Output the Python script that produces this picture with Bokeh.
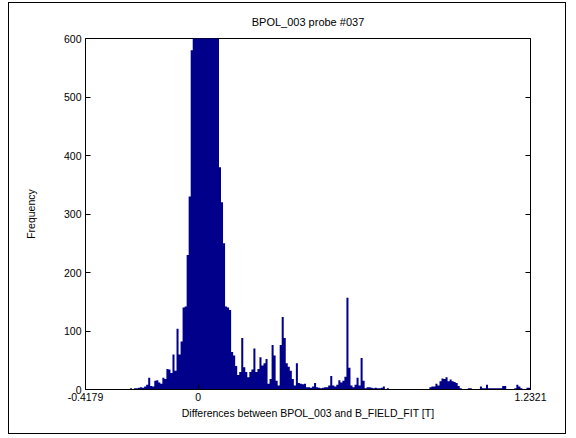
from bokeh.plotting import figure
from bokeh.models import (Range1d, FixedTicker, CustomJSTickFormatter, LinearAxis,
                          ColumnDataSource)
from bokeh.embed import file_html
from bokeh.resources import INLINE

title_text = "BPOL_003 probe #037"
x_label = "Differences between BPOL_003 and B_FIELD_FIT [T]"
y_label = "Frequency"

x_min = -0.4179
x_max = 1.2321
bin_width = 0.0075

counts = [
    1, 0, 0, 0, 0, 0, 0, 0, 0, 0,
    0, 0, 0, 0, 0, 0, 0, 0, 0, 0,
    0, 1, 2, 1, 2, 2, 3, 4, 3, 5,
    8, 20, 6, 5, 15, 16, 12, 10, 20, 18,
    35, 34, 28, 60, 32, 104, 60, 82, 140, 142,
    230, 330, 580, 650, 760, 890, 1020, 1130, 1210, 1240,
    1190, 1080, 940, 810, 700, 615, 380, 320, 250, 142,
    140, 136, 64, 58, 40, 25, 30, 88, 38, 30,
    21, 30, 34, 70, 30, 35, 55, 41, 45, 52,
    10, 18, 76, 58, 15, 7, 76, 124, 88, 45,
    39, 32, 18, 7, 45, 11, 10, 9, 10, 4,
    4, 3, 5, 11, 4, 3, 2, 3, 4, 4,
    7, 23, 7, 5, 8, 16, 12, 15, 22, 157,
    37, 7, 4, 8, 20, 7, 54, 15, 2, 4,
    4, 3, 2, 3, 2, 2, 3, 5, 1, 2,
    1, 0, 0, 0, 0, 0, 0, 0, 0, 0,
    0, 0, 0, 0, 0, 0, 0, 0, 0, 0,
    4, 5, 5, 10, 7, 14, 19, 18, 21, 14,
    17, 14, 13, 11, 6, 2, 1, 1, 0, 2,
    2, 1, 1, 1, 1, 5, 2, 2, 8, 2,
    2, 2, 2, 2, 2, 2, 6, 6, 1, 1,
    1, 1, 2, 8, 5, 2, 1, 1, 3, 3,
]

x_ticks = [-0.4179, 0.0, 1.2321]
y_ticks = [0, 100, 200, 300, 400, 500, 600]
y_max = 600

# step outline of the histogram: left edge of each bin, plus the final edge
edges = [x_min + i * bin_width for i in range(len(counts))] + [x_min + len(counts) * bin_width]
heights = counts + [counts[-1]]
src = ColumnDataSource(dict(x=edges, y1=[0] * len(edges), y2=heights))

FONT = "Liberation Sans"
BAR = "#00008B"

p = figure(width=558, height=432, output_backend="svg", toolbar_location=None,
           x_range=Range1d(x_min, x_max), y_range=Range1d(0, y_max),
           min_border_left=76, min_border_right=37, min_border_top=35,
           min_border_bottom=46, title=title_text)
p.styles = {"margin-left": "8px", "margin-top": "2px",
            "border": "1px solid black"}
p.background_fill_color = "white"
p.border_fill_color = "white"
p.outline_line_color = "black"
p.outline_line_width = 1
p.xgrid.visible = False
p.ygrid.visible = False

p.varea_step(x="x", y1="y1", y2="y2", source=src, step_mode="after",
             fill_color=BAR)

p.title.align = "center"
p.title.text_font = FONT
p.title.text_font_size = "11px"
p.title.text_font_style = "normal"
p.title.text_color = "black"
p.title.standoff = 21

label_fmt = CustomJSTickFormatter(code="""
if (Math.abs(tick) < 1e-9) { return "0"; }
if (Math.abs(tick - Math.round(tick)) < 1e-9) { return tick.toFixed(0); }
return tick.toFixed(4);
""")
blank_fmt = CustomJSTickFormatter(code="return '';")

def style_axis(ax):
    ax.axis_line_color = "black"
    ax.major_tick_line_color = "black"
    ax.major_tick_in = 5
    ax.major_tick_out = 0
    ax.minor_tick_in = 0
    ax.minor_tick_out = 0
    ax.major_label_text_font = FONT
    ax.major_label_text_font_size = "10.5px"
    ax.major_label_text_color = "black"
    ax.axis_label_text_font = FONT
    ax.axis_label_text_font_size = "10.5px"
    ax.axis_label_text_font_style = "normal"
    ax.axis_label_text_color = "black"

xa = p.xaxis[0]
xa.ticker = FixedTicker(ticks=x_ticks)
xa.formatter = label_fmt
xa.axis_label = x_label
xa.major_label_standoff = 3
xa.axis_label_standoff = 3
style_axis(xa)

ya = p.yaxis[0]
ya.ticker = FixedTicker(ticks=y_ticks)
ya.formatter = label_fmt
ya.axis_label = y_label
ya.major_label_standoff = 4
ya.axis_label_standoff = 24
style_axis(ya)

ra = LinearAxis(ticker=FixedTicker(ticks=y_ticks), formatter=blank_fmt)
style_axis(ra)
p.add_layout(ra, "right")

open("out.html", "w").write(file_html(p, INLINE))
